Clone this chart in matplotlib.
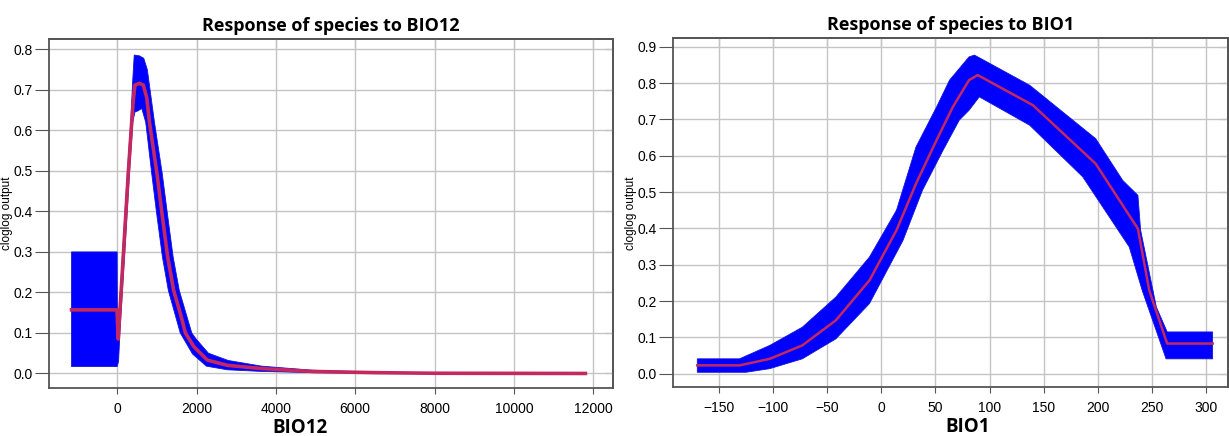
import numpy as np
import matplotlib
matplotlib.use("Agg")
import matplotlib.pyplot as plt

# BIO12 response: mean curve and the upper / lower edges of the band
bio12_mean_x = [-1150, -5, 26, 153, 280, 366, 407, 448, 560, 660, 747, 814, 1002, 1129, 1272, 1424,
                1600, 1720, 1934, 2273, 2781, 3644, 4915, 6500, 8000, 11800]
bio12_mean = [0.157, 0.157, 0.085, 0.288, 0.494, 0.62, 0.675, 0.712, 0.716, 0.712, 0.68, 0.62, 0.494, 0.395,
              0.288, 0.205, 0.145, 0.10, 0.066, 0.033, 0.02, 0.012, 0.005, 0.002, 0.0005, 0.0]
bio12_up_x = [-1150, 0, 6, 26, 130, 255, 342, 390, 430, 560, 670, 760, 940, 1135, 1265, 1410, 1565,
              1880, 1990, 2300, 2800, 3644, 4915, 6500, 8000, 11800]
bio12_upper = [0.30, 0.30, 0.12, 0.11, 0.288, 0.494, 0.62, 0.72, 0.786, 0.784, 0.778, 0.75, 0.62, 0.494,
               0.395, 0.288, 0.205, 0.10, 0.085, 0.05, 0.032, 0.018, 0.008, 0.003, 0.001, 0.0005]
bio12_lo_x = [-1150, 0, 35, 80, 185, 310, 395, 445, 520, 620, 720, 870, 995, 1140, 1290, 1590,
              1900, 2250, 2781, 3644, 4915, 6500, 8000, 11800]
bio12_lower = [0.017, 0.017, 0.03, 0.12, 0.288, 0.494, 0.62, 0.645, 0.648, 0.654, 0.62, 0.494, 0.395,
               0.288, 0.205, 0.10, 0.048, 0.018, 0.009, 0.005, 0.002, 0.0005, 0.0, 0.0]

# BIO1 response: mean curve and the upper / lower edges of the band
bio1_mean_x = [-170, -131, -103, -73, -42, -11, 14, 32, 51, 66, 81, 89, 140, 198, 237, 247.5, 264, 306]
bio1_mean = [0.023, 0.023, 0.041, 0.078, 0.147, 0.257, 0.395, 0.523, 0.643, 0.734, 0.808, 0.822, 0.739,
             0.578, 0.399, 0.229, 0.083, 0.083]
bio1_up_x = [-170, -131, -103, -73, -42, -11, 14, 32, 51, 63, 81, 86, 137, 198, 223, 237, 239.5, 254, 264, 306]
bio1_upper = [0.041, 0.041, 0.078, 0.128, 0.211, 0.321, 0.45, 0.624, 0.734, 0.808, 0.872, 0.877, 0.794,
              0.647, 0.532, 0.491, 0.395, 0.184, 0.115, 0.115]
bio1_lo_x = [-170, -125, -103, -73, -42, -11, 20, 38, 57, 72, 81, 90.5, 137, 186, 229, 241, 263, 306]
bio1_lower = [0.004, 0.004, 0.014, 0.041, 0.096, 0.193, 0.367, 0.505, 0.615, 0.698, 0.725, 0.762, 0.684,
              0.542, 0.349, 0.229, 0.041, 0.041]

tick_font = ['Liberation Sans Narrow', 'Liberation Sans', 'DejaVu Sans']
title_font = ['Open Sans', 'DejaVu Sans']
frame = '#555555'

fig = plt.figure(figsize=(12.29, 4.36), dpi=100)
ax1 = fig.add_axes([0.040, 0.110, 0.459, 0.800])
ax2 = fig.add_axes([0.548, 0.112, 0.451, 0.800])


def band(ax, ux, uy, lx, ly, mx, my, lw):
    px = list(ux) + list(lx)[::-1]
    py = list(uy) + list(ly)[::-1]
    ax.fill(px, py, color='#0000ff', edgecolor='#1414d8', lw=0.6)
    ax.plot(mx, my, color='#c42860', lw=lw)


def style(ax, title, xlabel, xlabel_x):
    ax.grid(True, color='#c4c4c4', lw=1)
    ax.set_axisbelow(True)
    for s in ax.spines.values():
        s.set_color(frame)
        s.set_linewidth(1.3)
    ax.tick_params(axis='y', direction='out', length=10, color=frame, labelsize=10, pad=2)
    ax.tick_params(axis='x', direction='out', length=4, color=frame, labelsize=10, pad=6)
    for lab in ax.get_xticklabels() + ax.get_yticklabels():
        lab.set_family(tick_font)
    top = ax.secondary_xaxis('top')
    top.set_xticks(ax.get_xticks())
    top.tick_params(direction='in', length=6, color=frame, labeltop=False)
    right = ax.secondary_yaxis('right')
    right.set_yticks(ax.get_yticks())
    right.tick_params(direction='in', length=6, color=frame, labelright=False)
    for sec in (top, right):
        for s in sec.spines.values():
            s.set_color(frame)
            s.set_linewidth(1.3)
    ax.set_title(title, fontsize=13, fontweight='bold', family=title_font, pad=6)
    ax.set_xlabel(xlabel, fontsize=13.5, fontweight='bold', family=title_font)
    ax.xaxis.set_label_coords(xlabel_x, -0.085)
    ax.set_ylabel('cloglog output', fontsize=8.5, family=['Liberation Sans', 'DejaVu Sans'])


band(ax1, bio12_up_x, bio12_upper, bio12_lo_x, bio12_lower, bio12_mean_x, bio12_mean, 2.6)
ax1.set_xlim(-1714, 12503)
ax1.set_ylim(-0.036, 0.825)
ax1.set_xticks(np.arange(0, 12001, 2000))
ax1.set_yticks(np.arange(0, 0.81, 0.1))
ax1.set_yticklabels(['%.1f' % v for v in np.arange(0, 0.81, 0.1)])
style(ax1, 'Response of species to BIO12', 'BIO12', 0.445)
ax1.yaxis.set_label_coords(-0.064, 0.50)

band(ax2, bio1_up_x, bio1_upper, bio1_lo_x, bio1_lower, bio1_mean_x, bio1_mean, 1.8)
ax2.set_xlim(-192, 320)
ax2.set_ylim(-0.037, 0.923)
ax2.set_xticks(np.arange(-150, 301, 50))
ax2.set_yticks(np.arange(0, 0.91, 0.1))
ax2.set_yticklabels(['%.1f' % v for v in np.arange(0, 0.91, 0.1)])
style(ax2, 'Response of species to BIO1', 'BIO1', 0.53)
ax2.yaxis.set_label_coords(-0.065, 0.50)

fig.savefig('out.png', dpi=100)
